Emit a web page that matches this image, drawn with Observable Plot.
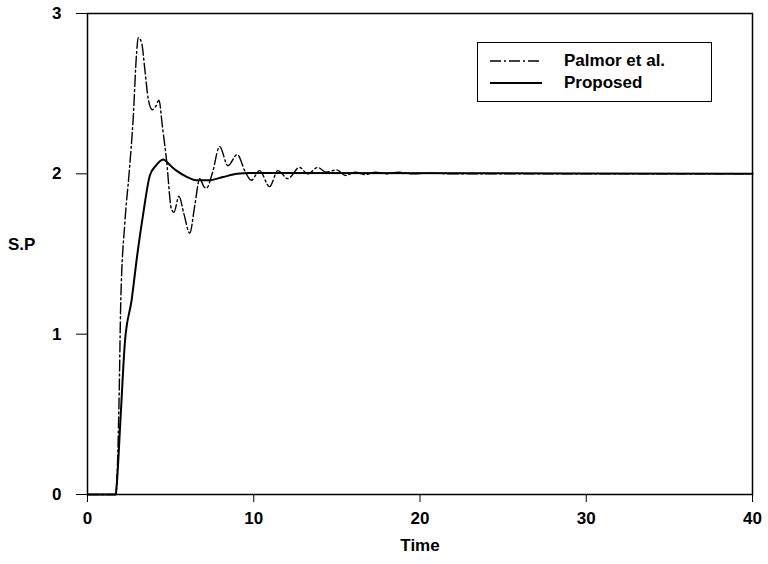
<!DOCTYPE html>
<html>
<head>
<meta charset="utf-8">
<script src="https://cdn.jsdelivr.net/npm/d3@7"></script>
<script src="https://cdn.jsdelivr.net/npm/@observablehq/plot@0.6"></script>
<style>
  html, body { margin: 0; padding: 0; background: #fff; }
  #wrap { position: relative; width: 768px; height: 564px; font-family: "Liberation Sans", Arial, sans-serif; }
  #ylab { position: absolute; left: 8px; top: 235px; font-size: 17px; font-weight: bold; color: #000; }
  #legend { position: absolute; left: 477px; top: 42px; width: 233px; height: 58px; border: 1.5px solid #000; background: #fff; }
  .row { position: absolute; left: 12px; display: flex; align-items: center; font-size: 17px; font-weight: bold; color: #000; }
  .row svg { margin-right: 22px; }
</style>
</head>
<body>
<div id="wrap">
  <div id="chart"></div>
  <div id="ylab">S.P</div>
  <div id="legend"></div>
</div>
<script>
// Series: Palmor et al. (dash-dot)
const timePalmor = [0, 1.7, 1.75, 1.9, 2.0, 2.25, 2.5, 2.75, 2.95, 3.05, 3.25, 3.45, 3.65, 3.9, 4.1, 4.3, 4.5, 4.75, 5.05, 5.2, 5.5, 5.8, 6.15, 6.45, 6.75, 7.0, 7.15, 7.5, 7.95, 8.45, 9.0, 9.5, 9.85, 10.35, 10.95, 11.45, 12.05, 12.75, 13.25, 13.85, 14.35, 15.0, 15.5, 16.1, 16.7, 17.3, 18.0, 18.7, 19.5, 20.5, 22, 40];
const spPalmor   = [0, 0, 0.05, 0.6, 1.2, 1.7, 2.0, 2.35, 2.75, 2.85, 2.82, 2.65, 2.47, 2.40, 2.42, 2.46, 2.30, 2.09, 1.78, 1.76, 1.86, 1.75, 1.63, 1.80, 1.97, 1.92, 1.91, 2.0, 2.17, 2.05, 2.12, 2.01, 1.96, 2.02, 1.92, 2.02, 1.97, 2.04, 2.0, 2.04, 2.01, 2.025, 1.99, 2.01, 1.995, 2.01, 2.0, 2.01, 2.0, 2.005, 2.0, 2.0];
// Series: Proposed (solid)
const timeProposed = [0, 1.7, 1.75, 2.0, 2.25, 2.65, 3.0, 3.35, 3.75, 4.1, 4.55, 5.0, 5.35, 6.0, 6.55, 7.3, 8.15, 9.0, 9.75, 40];
const spProposed   = [0, 0, 0.05, 0.5, 0.95, 1.21, 1.5, 1.75, 1.99, 2.05, 2.09, 2.05, 2.02, 1.98, 1.96, 1.96, 1.98, 2.0, 2.005, 2.0];
// Axes
const xTicks = [0, 10, 20, 30, 40];
const yTicks = [0, 1, 2, 3];
const seriesNames = ["Palmor et al.", "Proposed"];

const palmor = timePalmor.map((t, i) => ({t, v: spPalmor[i]}));
const proposed = timeProposed.map((t, i) => ({t, v: spProposed[i]}));

const font = "Liberation Sans, Arial, sans-serif";
const chart = Plot.plot({
  width: 768,
  height: 564,
  marginLeft: 87,
  marginRight: 16,
  marginTop: 13,
  marginBottom: 70,
  style: {fontFamily: font, fontSize: "17px", fontWeight: "bold", background: "#fff", color: "#000"},
  x: {domain: [0, 40], ticks: xTicks},
  y: {domain: [0, 3], ticks: yTicks},
  marks: [
    Plot.frame({stroke: "#000", strokeWidth: 1.5}),
    Plot.axisX({ticks: xTicks, tickSize: 8, tickPadding: 9, label: null, tickFormat: d => String(d), fontSize: 17, fontWeight: "bold"}),
    Plot.axisY({ticks: yTicks, tickSize: 11, tickPadding: 15, label: null, tickFormat: d => String(d), fontSize: 17, fontWeight: "bold"}),
    Plot.line(palmor, {x: "t", y: "v", stroke: "#000", strokeWidth: 1.4, strokeDasharray: "11,3,2,3", curve: "monotone-x"}),
    Plot.line(proposed, {x: "t", y: "v", stroke: "#000", strokeWidth: 2, curve: "monotone-x"}),
    Plot.text(["Time"], {frameAnchor: "bottom", dy: 56, fontSize: 17, fontWeight: "bold", fill: "#000"})
  ]
});
document.getElementById("chart").appendChild(chart);

const legend = document.getElementById("legend");
const dashes = ["11,3,2,3", null];
const widths = [1.4, 2];
seriesNames.forEach((name, i) => {
  const row = document.createElement("div");
  row.className = "row";
  row.style.top = (8 + i * 22) + "px";
  const dash = dashes[i] ? ` stroke-dasharray="${dashes[i]}"` : "";
  row.innerHTML = `<svg width="52" height="10"><line x1="0" y1="5" x2="52" y2="5" stroke="#000" stroke-width="${widths[i]}"${dash}/></svg><span>${name}</span>`;
  legend.appendChild(row);
});
</script>
</body>
</html>
